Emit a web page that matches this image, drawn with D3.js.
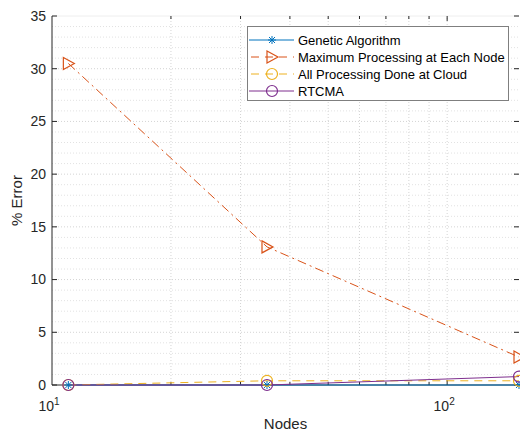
<!DOCTYPE html>
<meta charset="utf-8">
<body style="margin:0;background:#fff">
<script src="https://d3js.org/d3.v7.min.js"></script>
<div id="chart"></div>
<script>
// data
var nodes = [11, 35, 152];
var geneticAlg = [0, 0, 0];
var maxAtNode = [30.5, 13.1, 2.65];
var allCloud = [0, 0.4, 0.4];
var rtcma = [0, 0, 0.8];
var seriesNames = ["Genetic Algorithm", "Maximum Processing at Each Node", "All Processing Done at Cloud", "RTCMA"];
var yTicks = [0, 5, 10, 15, 20, 25, 30, 35];

var width = 520, height = 433;
var margin = {top: 16, right: 1, bottom: 48, left: 52};

var svg = d3.select("#chart").append("svg")
    .attr("width", width).attr("height", height)
    .style("font-family", "'Liberation Sans', Arial, sans-serif");

var x = d3.scaleLog().domain([10, 152]).range([margin.left, width - margin.right]);
var y = d3.scaleLinear().domain([0, 35]).range([height - margin.bottom, margin.top]);

var x0 = x.range()[0], x1 = x.range()[1], y0 = y.range()[0], y1 = y.range()[1];

// grid
var minorX = [20, 30, 40, 50, 60, 70, 80, 90, 100];
var g = svg.append("g");
g.selectAll("line.vx").data(minorX).join("line")
    .attr("x1", d => x(d)).attr("x2", d => x(d))
    .attr("y1", y0).attr("y2", y1)
    .attr("stroke", "#d4d4d4").attr("stroke-dasharray", "1,2");
g.selectAll("line.hy").data(d3.range(1, 35)).join("line")
    .attr("x1", x0).attr("x2", x1)
    .attr("y1", d => y(d)).attr("y2", d => y(d))
    .attr("stroke", d => d % 5 == 0 ? "#d4d4d4" : "#e2e2e2").attr("stroke-dasharray", "1,2");

// axes box
svg.append("line").attr("x1", x0).attr("x2", x1).attr("y1", y1).attr("y2", y1).attr("stroke", "#eeeeee");
svg.append("line").attr("x1", x0).attr("x2", x0).attr("y1", y0).attr("y2", y1).attr("stroke", "#262626");
svg.append("line").attr("x1", x0).attr("x2", x1).attr("y1", y0).attr("y2", y0).attr("stroke", "#262626");

// y ticks (left + right)
var yt = svg.append("g");
yt.selectAll("line.l").data(yTicks).join("line")
    .attr("x1", x0).attr("x2", x0 + 5).attr("y1", d => y(d)).attr("y2", d => y(d)).attr("stroke", "#262626");
yt.selectAll("line.r").data(yTicks).join("line")
    .attr("x1", x1 - 5).attr("x2", x1).attr("y1", d => y(d)).attr("y2", d => y(d)).attr("stroke", "#262626");
yt.selectAll("text").data(yTicks).join("text")
    .attr("x", x0 - 6).attr("y", d => y(d)).attr("dy", "0.35em")
    .attr("text-anchor", "end").attr("font-size", 14).attr("fill", "#262626")
    .text(d => d);

// x ticks (bottom + top)
var xt = svg.append("g");
xt.selectAll("line.b").data(minorX).join("line")
    .attr("x1", d => x(d)).attr("x2", d => x(d))
    .attr("y1", y0).attr("y2", d => d == 100 ? y0 - 5 : y0 - 3).attr("stroke", "#262626");
xt.selectAll("line.t").data(minorX).join("line")
    .attr("x1", d => x(d)).attr("x2", d => x(d))
    .attr("y1", y1).attr("y2", d => d == 100 ? y1 + 5 : y1 + 3).attr("stroke", "#262626");
[[10, "1"], [100, "2"]].forEach(function (t) {
    var tx = svg.append("text").attr("x", x(t[0]) - 3).attr("y", y0 + 26)
        .attr("text-anchor", "middle").attr("font-size", 14).attr("fill", "#262626");
    tx.append("tspan").text("10");
    tx.append("tspan").attr("dy", -6).attr("font-size", 10).text(t[1]);
});

// axis labels
svg.append("text").attr("x", (x0 + x1) / 2 + 0).attr("y", height - 4)
    .attr("text-anchor", "middle").attr("font-size", 15).attr("fill", "#262626").text("Nodes");
svg.append("text").attr("transform", "translate(22," + ((y0 + y1) / 2) + ") rotate(-90)")
    .attr("text-anchor", "middle").attr("font-size", 15).attr("fill", "#262626").text("% Error");

// series
var colors = ["#0072BD", "#D95319", "#EDB120", "#7E2F8E"];
var dashes = [null, "9,4,2,4", "8,6", null];
var markers = ["star", "tri", "circle", "circle"];
var allData = [geneticAlg, maxAtNode, allCloud, rtcma];

var line = d3.line().x(d => x(d[0])).y(d => y(d[1]));

function drawMarker(sel, type, c, cx, cy) {
    if (type == "star") {
        var s = 4;
        var p = "M" + (cx - s) + "," + cy + "L" + (cx + s) + "," + cy +
            "M" + cx + "," + (cy - s) + "L" + cx + "," + (cy + s) +
            "M" + (cx - 3) + "," + (cy - 3) + "L" + (cx + 3) + "," + (cy + 3) +
            "M" + (cx - 3) + "," + (cy + 3) + "L" + (cx + 3) + "," + (cy - 3);
        sel.append("path").attr("d", p).attr("stroke", c).attr("fill", "none");
    } else if (type == "tri") {
        var p2 = "M" + (cx - 5) + "," + (cy - 6) + "L" + (cx + 6) + "," + cy + "L" + (cx - 5) + "," + (cy + 6) + "Z";
        sel.append("path").attr("d", p2).attr("stroke", c).attr("fill", "none").attr("stroke-width", 1.2);
    } else {
        sel.append("circle").attr("cx", cx).attr("cy", cy).attr("r", 5.5)
            .attr("stroke", c).attr("fill", "none").attr("stroke-width", 1.2);
    }
}

var plot = svg.append("g");
allData.forEach(function (vals, i) {
    var pts = nodes.map((n, k) => [n, vals[k]]);
    plot.append("path").datum(pts).attr("d", line)
        .attr("fill", "none").attr("stroke", colors[i]).attr("stroke-width", 1)
        .attr("stroke-dasharray", dashes[i]);
});
allData.forEach(function (vals, i) {
    nodes.forEach(function (n, k) {
        drawMarker(plot, markers[i], colors[i], x(n), y(vals[k]));
    });
});

// legend
var lg = svg.append("g");
lg.append("rect").attr("x", 247.5).attr("y", 26.5).attr("width", 261).attr("height", 74)
    .attr("fill", "#fff").attr("stroke", "#7f7f7f");
seriesNames.forEach(function (name, i) {
    var ly = 40 + i * 17;
    lg.append("line").attr("x1", 249).attr("x2", 294).attr("y1", ly).attr("y2", ly)
        .attr("stroke", colors[i]).attr("stroke-dasharray", dashes[i] ? "8,6" : null)
        .attr("stroke-dashoffset", i == 1 || i == 2 ? -2 : 0);
    drawMarker(lg, markers[i], colors[i], 272, ly);
    lg.append("text").attr("x", 298).attr("y", ly).attr("dy", "0.35em")
        .attr("font-size", 13).attr("fill", "#000").text(name);
});
</script>
</body>
